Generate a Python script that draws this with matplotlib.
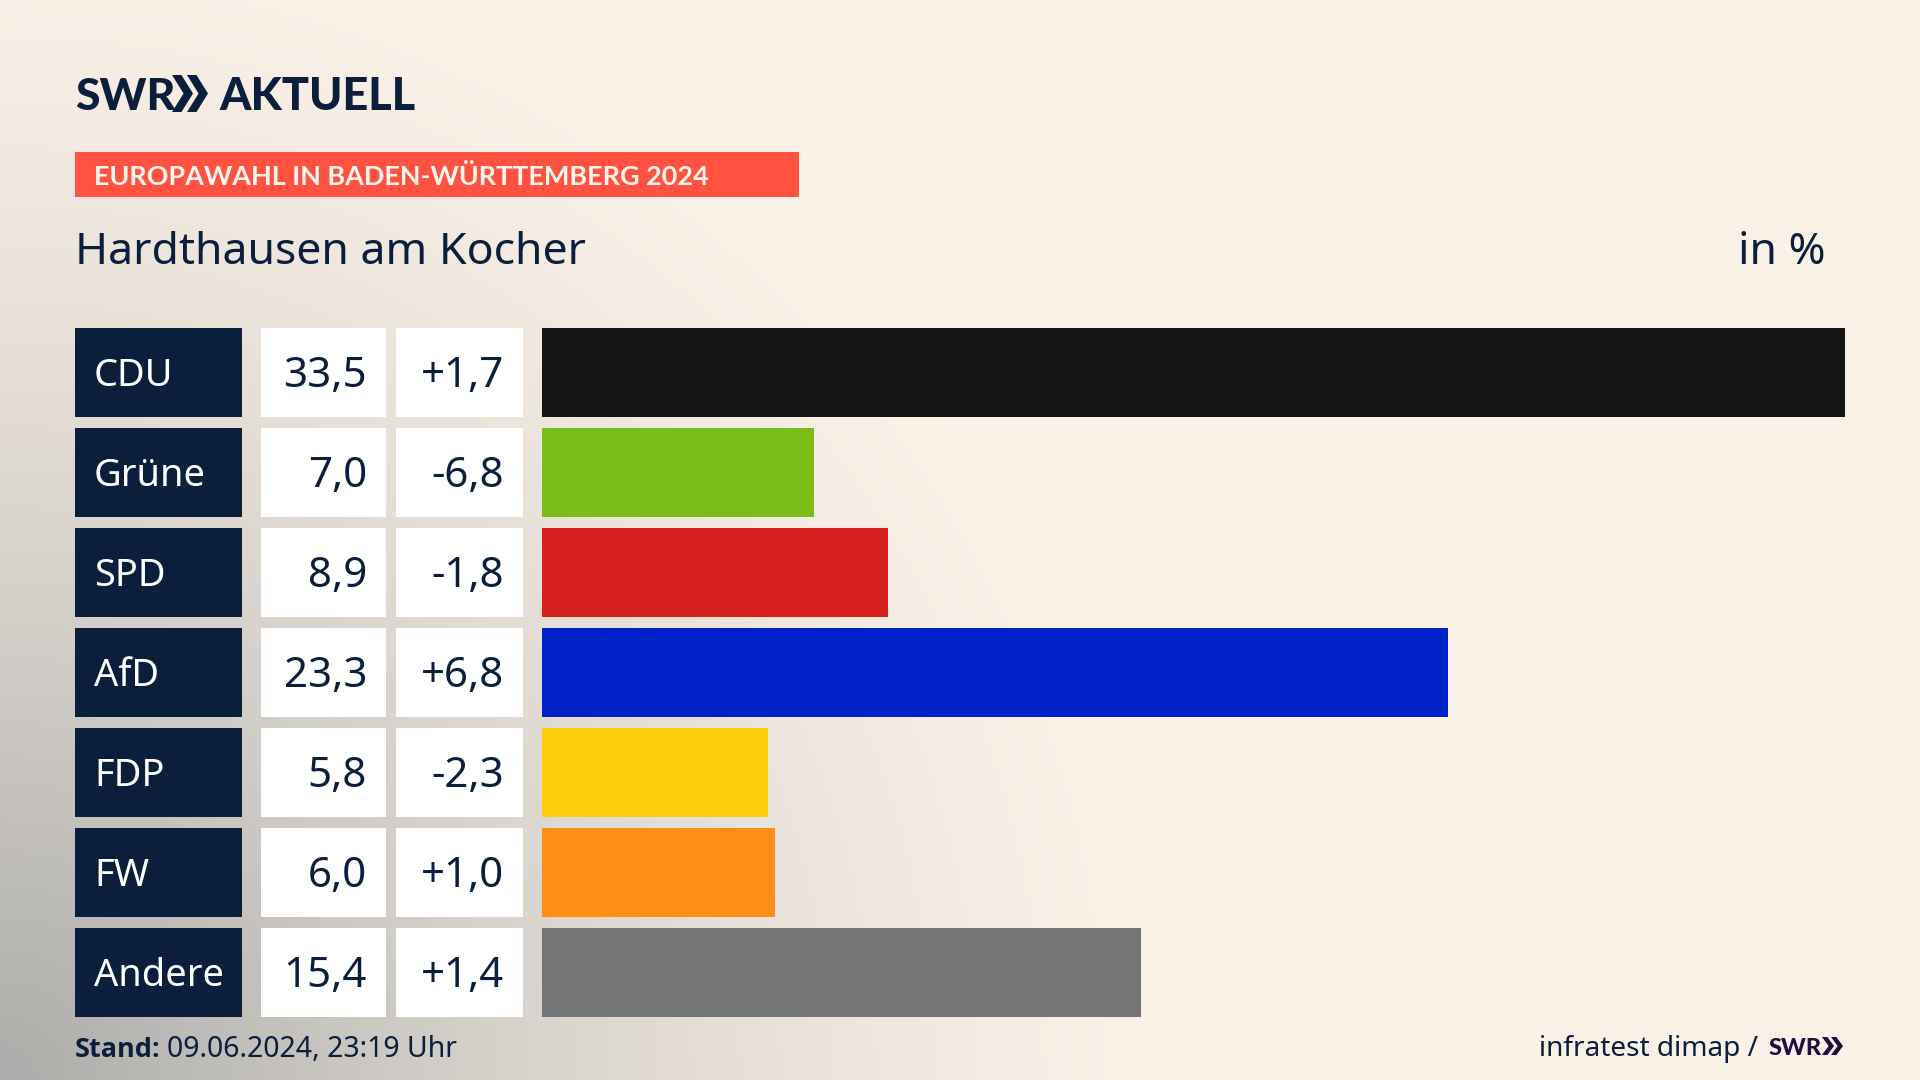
import numpy as np
import matplotlib
matplotlib.use("Agg")
import matplotlib.pyplot as plt
from matplotlib.patches import Rectangle, Polygon

# ---- data ----
parties = ["CDU", "Grüne", "SPD", "AfD", "FDP", "FW", "Andere"]
shares = [33.5, 7.0, 8.9, 23.3, 5.8, 6.0, 15.4]
changes = ["+1,7", "-6,8", "-1,8", "+6,8", "-2,3", "+1,0", "+1,4"]
colors = ["#141414", "#7ABD1A", "#D71F1D", "#0021C8", "#FFCE0A", "#FF8E16", "#737577"]

NAVY = "#0B1F3D"
BODY = "Noto Sans"
HEAVY = "Lato"
PT = 0.72  # px -> pt at dpi 100

fig = plt.figure(figsize=(19.2, 10.8), dpi=100)

# background + overlay axes in pixel coordinates
bg = fig.add_axes([0, 0, 1, 1])
bg.set_xlim(0, 1920); bg.set_ylim(1080, 0); bg.axis("off")
yy, xx = np.mgrid[0:1080:270j, 0:1920:480j]
d = np.sqrt((xx / 1150.0) ** 2 + ((1080 - yy) / 1150.0) ** 2)
t = np.clip(1 - d, 0, 1) ** 1.35
base = np.array([250, 241, 231]) / 255
grey = np.array([172, 172, 170]) / 255
img = base[None, None, :] * (1 - t[..., None]) + grey[None, None, :] * t[..., None]
bg.imshow(img, extent=(0, 1920, 1080, 0), aspect="auto", interpolation="bilinear", zorder=0)
bg.set_xlim(0, 1920); bg.set_ylim(1080, 0)


def chevrons(x, top, bottom, w, gap, color):
    mid = (top + bottom) / 2
    tip = w * 0.55
    for i in range(2):
        x0 = x + i * gap
        bg.add_patch(Polygon([(x0, top), (x0 + w - tip, top), (x0 + w, mid),
                              (x0 + w - tip, bottom), (x0, bottom), (x0 + tip, mid)],
                             closed=True, fc=color, ec="none", zorder=3))


# logo
bg.text(75, 110, "SWR", family=HEAVY, weight="black", fontsize=44.5 * PT, color=NAVY, va="baseline", zorder=3)
chevrons(172, 75, 112, 21, 15, NAVY)
bg.text(219, 110, "AKTUELL", family=HEAVY, weight="black", fontsize=45 * PT, color=NAVY, va="baseline", zorder=3)

# header band
bg.add_patch(Rectangle((75, 152), 724, 45, fc="#FF5240", ec="none", zorder=2))
bg.text(94, 185, "EUROPAWAHL IN BADEN-WÜRTTEMBERG 2024", family=HEAVY, weight="bold",
        fontsize=27 * PT, color="#FFF6EE", va="baseline", zorder=3)

# titles
bg.text(75, 264, "Hardthausen am Kocher", family=BODY, fontsize=44.6 * PT, color=NAVY, va="baseline", zorder=3)
bg.text(1825, 264, "in %", family=BODY, fontsize=44.6 * PT, color=NAVY, ha="right", va="baseline", zorder=3)

# rows
ROW_TOP, ROW_STEP, ROW_H = 328, 100, 88.5
for i, (p, s, c) in enumerate(zip(parties, shares, changes)):
    top = ROW_TOP + i * ROW_STEP
    bg.add_patch(Rectangle((75, top), 167, ROW_H, fc=NAVY, ec="none", zorder=2))
    bg.add_patch(Rectangle((261, top), 125, ROW_H, fc="white", ec="none", zorder=2))
    bg.add_patch(Rectangle((396, top), 127, ROW_H, fc="white", ec="none", zorder=2))
    bg.text(94, top + 58, p, family=BODY, fontsize=38 * PT, color="white", va="baseline", zorder=3)
    bg.text(367, top + 59, f"{s:.1f}".replace(".", ","), family=BODY, fontsize=42 * PT,
            color=NAVY, ha="right", va="baseline", zorder=3)
    bg.text(504, top + 59, c, family=BODY, fontsize=42 * PT, color=NAVY, ha="right", va="baseline", zorder=3)

# bars on their own value axis
W, H = 1920.0, 1080.0
x0, x1 = 542.0, 1845.0
y_top, y_bot = 328 - 5.75, 328 + 7 * 100 - 5.75
ax = fig.add_axes([x0 / W, 1 - y_bot / H, (x1 - x0) / W, (y_bot - y_top) / H], facecolor="none")
ypos = np.arange(len(parties))
ax.barh(ypos, shares, height=0.885, color=colors, linewidth=0)
ax.set_xlim(0, 33.5)
ax.set_ylim(len(parties) - 0.5, -0.5)
ax.axis("off")

# footer
bg.text(75, 1057, "Stand:", family="Open Sans", weight="bold", fontsize=27 * PT, color=NAVY, va="baseline", zorder=3)
bg.text(167, 1057, "09.06.2024, 23:19 Uhr", family=BODY, fontsize=28.4 * PT, color=NAVY, va="baseline", zorder=3)
bg.text(1758, 1056, "infratest dimap /", family=BODY, fontsize=28 * PT, color=NAVY, ha="right", va="baseline", zorder=3)
bg.text(1769, 1055, "SWR", family=HEAVY, weight="black", fontsize=23.5 * PT, color="#1E0F40", va="baseline", zorder=3)
chevrons(1822, 1037, 1055, 12, 9, "#1E0F40")

fig.savefig("out.png", dpi=100)
